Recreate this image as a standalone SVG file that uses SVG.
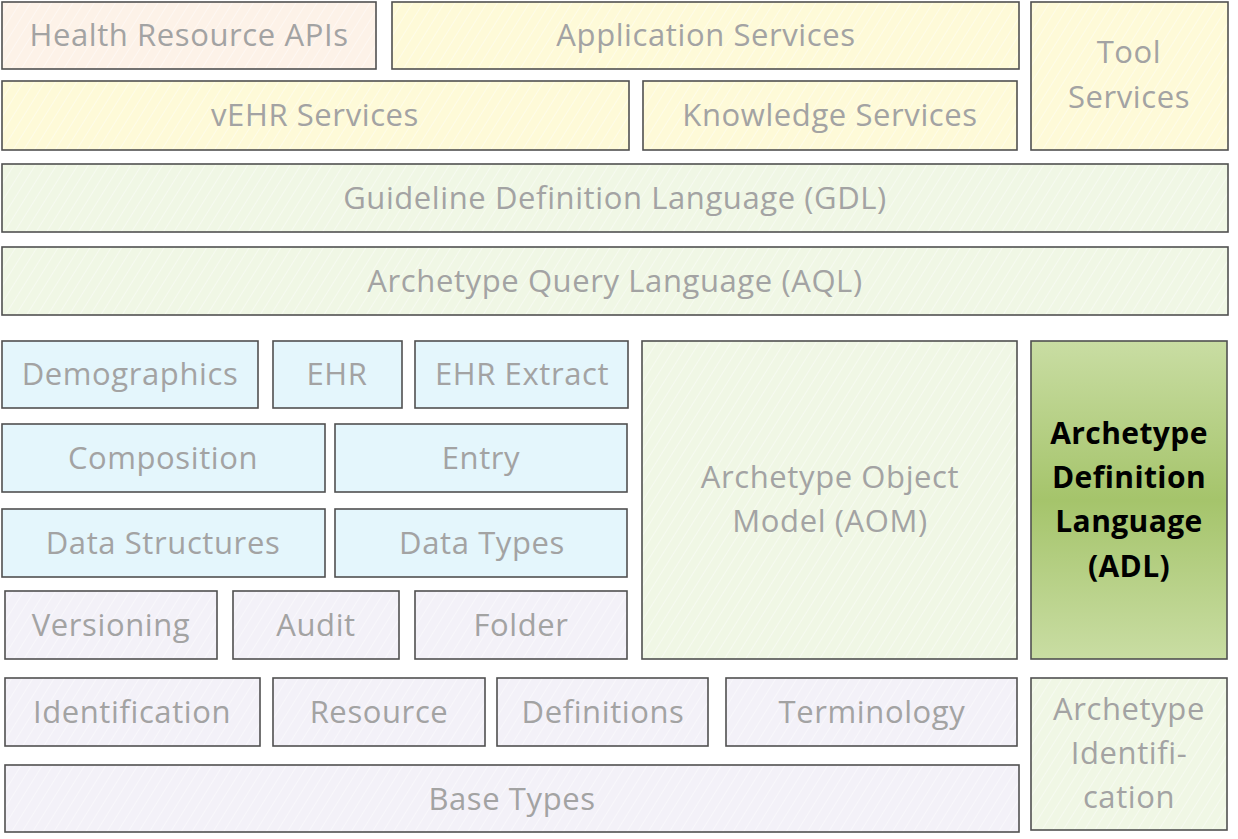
<svg xmlns="http://www.w3.org/2000/svg" width="1238" height="839" viewBox="0 0 1238 839">
<style>
.b{stroke:#505050;stroke-width:1.6}
.t{font-family:"Open Sans","Liberation Sans",sans-serif;font-size:31px;letter-spacing:0.6px;fill:#a3a3a3;text-anchor:middle}
.k{font-family:"Open Sans","Liberation Sans",sans-serif;font-size:30px;letter-spacing:0.4px;font-weight:bold;fill:#000;text-anchor:middle}
.peach{fill:url(#hPeach)}
.yel{fill:url(#hYel)}
.grn{fill:url(#hGrn)}
.blu{fill:#e4f6fc}
.lav{fill:url(#hLav)}
</style>
<defs>
<pattern id="hPeach" width="9" height="9" patternUnits="userSpaceOnUse" patternTransform="rotate(32)"><rect width="9" height="9" fill="#fdf2e8"/><line x1="0" y1="0" x2="0" y2="9" stroke="#ffffff" stroke-width="1.2" stroke-opacity="0.7"/></pattern>
<pattern id="hYel" width="9" height="9" patternUnits="userSpaceOnUse" patternTransform="rotate(32)"><rect width="9" height="9" fill="#fefad8"/><line x1="0" y1="0" x2="0" y2="9" stroke="#ffffff" stroke-width="1.2" stroke-opacity="0.7"/></pattern>
<pattern id="hGrn" width="9" height="9" patternUnits="userSpaceOnUse" patternTransform="rotate(32)"><rect width="9" height="9" fill="#f0f7e5"/><line x1="0" y1="0" x2="0" y2="9" stroke="#ffffff" stroke-width="1.2" stroke-opacity="0.7"/></pattern>
<pattern id="hLav" width="9" height="9" patternUnits="userSpaceOnUse" patternTransform="rotate(32)"><rect width="9" height="9" fill="#f3f1f8"/><line x1="0" y1="0" x2="0" y2="9" stroke="#ffffff" stroke-width="1.2" stroke-opacity="0.7"/></pattern>
<linearGradient id="gADL" x1="0" y1="0" x2="0" y2="1">
<stop offset="0" stop-color="#c9dda3"/><stop offset="0.5" stop-color="#a5c46b"/><stop offset="1" stop-color="#c9dda3"/>
</linearGradient>
</defs>
<g id="health-resource-apis"><rect class="b peach" x="2" y="2" width="374" height="67"/><text class="t" x="189" y="46">Health Resource APIs</text></g>
<g id="application-services"><rect class="b yel" x="392" y="2" width="627" height="67"/><text class="t" x="706" y="46">Application Services</text></g>
<g id="tool-services"><rect class="b yel" x="1031" y="2" width="197" height="148"/><text class="t" x="1129" y="63">Tool</text><text class="t" x="1129" y="108">Services</text></g>
<g id="vehr-services"><rect class="b yel" x="2" y="81" width="627" height="69"/><text class="t" x="315" y="126">vEHR Services</text></g>
<g id="knowledge-services"><rect class="b yel" x="643" y="81" width="374" height="69"/><text class="t" x="830" y="126">Knowledge Services</text></g>
<g id="gdl"><rect class="b grn" x="2" y="164" width="1226" height="68"/><text class="t" x="615" y="209">Guideline Definition Language (GDL)</text></g>
<g id="aql"><rect class="b grn" x="2" y="247" width="1226" height="68"/><text class="t" x="615" y="292">Archetype Query Language (AQL)</text></g>
<g id="demographics"><rect class="b blu" x="2" y="341" width="256" height="67"/><text class="t" x="130" y="385">Demographics</text></g>
<g id="ehr"><rect class="b blu" x="273" y="341" width="129" height="67"/><text class="t" x="337" y="385">EHR</text></g>
<g id="ehr-extract"><rect class="b blu" x="415" y="341" width="213" height="67"/><text class="t" x="522" y="385">EHR Extract</text></g>
<g id="composition"><rect class="b blu" x="2" y="424" width="323" height="68"/><text class="t" x="163" y="469">Composition</text></g>
<g id="entry"><rect class="b blu" x="335" y="424" width="292" height="68"/><text class="t" x="481" y="469">Entry</text></g>
<g id="data-structures"><rect class="b blu" x="2" y="509" width="323" height="68"/><text class="t" x="163" y="554">Data Structures</text></g>
<g id="data-types"><rect class="b blu" x="335" y="509" width="292" height="68"/><text class="t" x="482" y="554">Data Types</text></g>
<g id="versioning"><rect class="b lav" x="5" y="591" width="212" height="68"/><text class="t" x="111" y="636">Versioning</text></g>
<g id="audit"><rect class="b lav" x="233" y="591" width="166" height="68"/><text class="t" x="316" y="636">Audit</text></g>
<g id="folder"><rect class="b lav" x="415" y="591" width="212" height="68"/><text class="t" x="521" y="636">Folder</text></g>
<g id="aom"><rect class="b grn" x="642" y="341" width="375" height="318"/><text class="t" x="830" y="488">Archetype Object</text><text class="t" x="830" y="532">Model (AOM)</text></g>
<g id="adl"><rect class="b" fill="url(#gADL)" x="1031" y="341" width="196" height="318"/><text class="k" x="1129" y="444">Archetype</text><text class="k" x="1129" y="488">Definition</text><text class="k" x="1129" y="532">Language</text><text class="k" x="1129" y="577">(ADL)</text></g>
<g id="identification"><rect class="b lav" x="5" y="678" width="255" height="68"/><text class="t" x="132" y="723">Identification</text></g>
<g id="resource"><rect class="b lav" x="273" y="678" width="212" height="68"/><text class="t" x="379" y="723">Resource</text></g>
<g id="definitions"><rect class="b lav" x="497" y="678" width="211" height="68"/><text class="t" x="603" y="723">Definitions</text></g>
<g id="terminology"><rect class="b lav" x="726" y="678" width="291" height="68"/><text class="t" x="872" y="723">Terminology</text></g>
<g id="archetype-identification"><rect class="b grn" x="1031" y="678" width="196" height="152"/><text class="t" x="1129" y="720">Archetype</text><text class="t" x="1129" y="764">Identifi-</text><text class="t" x="1129" y="808">cation</text></g>
<g id="base-types"><rect class="b lav" x="5" y="765" width="1014" height="67"/><text class="t" x="512" y="810">Base Types</text></g>
<g id="connectors"/>
</svg>
